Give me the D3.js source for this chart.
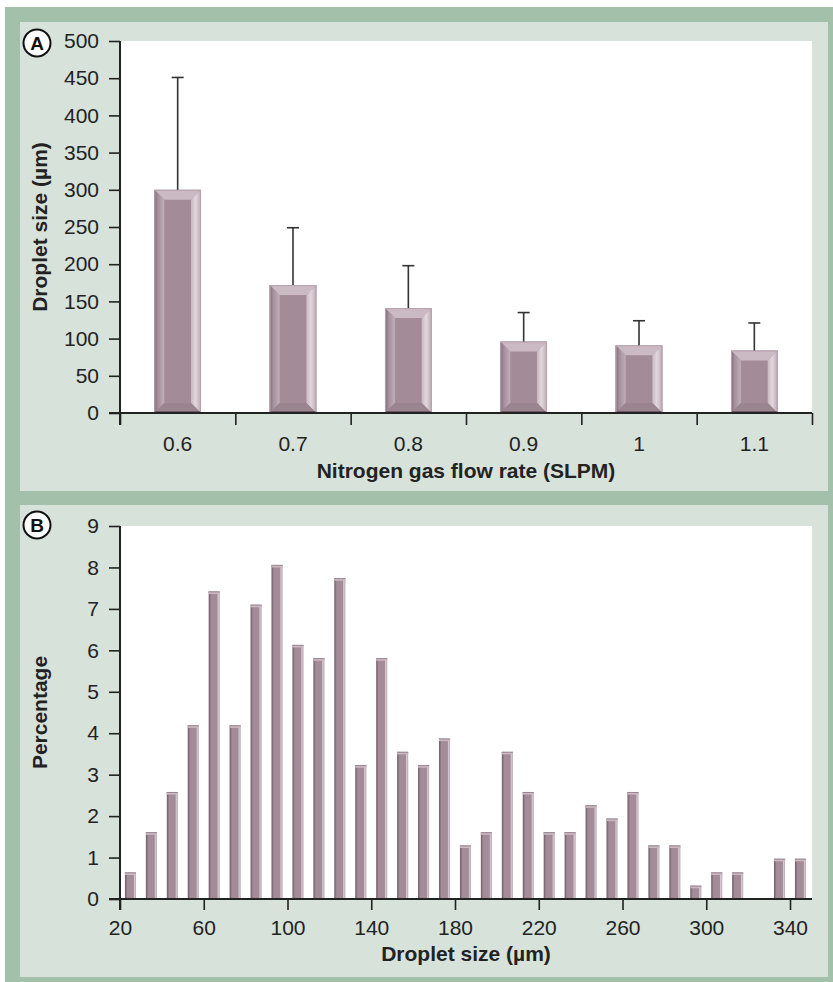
<!DOCTYPE html>
<html><head><meta charset="utf-8">
<script src="https://cdn.jsdelivr.net/npm/d3@7/dist/d3.min.js"></script>
<style>
html,body{margin:0;padding:0;background:#fff;}
svg{display:block;font-family:"Liberation Sans",Arial,Helvetica,sans-serif;}
</style></head>
<body>
<svg id="chart" width="833" height="982"></svg>
<script>
// ---------- Data ----------
const flowRates = ["0.6", "0.7", "0.8", "0.9", "1", "1.1"];
const meanSize = [300, 172, 141, 96, 91, 84];
const sdSize = [151, 77, 57, 39, 33, 37];
const yTicksA = [0, 50, 100, 150, 200, 250, 300, 350, 400, 450, 500];

const binCenters = [25, 35, 45, 55, 65, 75, 85, 95, 105, 115, 125, 135, 145, 155, 165, 175, 185, 195, 205, 215, 225, 235, 245, 255, 265, 275, 285, 295, 305, 315, 325, 335, 345];
const percentages = [0.64, 1.61, 2.58, 4.19, 7.42, 4.19, 7.10, 8.06, 6.13, 5.81, 7.74, 3.23, 5.81, 3.55, 3.23, 3.87, 1.29, 1.61, 3.55, 2.58, 1.61, 1.61, 2.26, 1.94, 2.58, 1.29, 1.29, 0.32, 0.64, 0.64, 0, 0.97, 0.97];
const yTicksB = [0, 1, 2, 3, 4, 5, 6, 7, 8, 9];
const xTicksB = [20, 60, 100, 140, 180, 220, 260, 300, 340];

// ---------- Layout ----------
const svg = d3.select("#chart");
const FS = 21;
const green = "#a3c0ab", light = "#d7e2db", ink = "#222";

const defs = svg.append("defs");
function grad(id, stops) {
  const g = defs.append("linearGradient").attr("id", id).attr("x1", "0%").attr("x2", "100%").attr("y1", "0%").attr("y2", "0%");
  stops.forEach(s => g.append("stop").attr("offset", s[0]).attr("stop-color", s[1]));
}
grad("leftBevel", [["0%", "#7d6874"], ["35%", "#a48e9b"], ["100%", "#c0afb9"]]);
grad("rightBevel", [["0%", "#c9b9c2"], ["45%", "#e2d7dd"], ["100%", "#bcaab4"]]);
grad("thinBar", [["0%", "#6f5b66"], ["14%", "#8e7884"], ["22%", "#a38b98"], ["76%", "#a38b98"], ["84%", "#d6c8d0"], ["100%", "#b8a6b0"]]);

svg.append("rect").attr("x", 5).attr("y", 7).attr("width", 828).attr("height", 975).attr("fill", green);
svg.append("rect").attr("x", 20).attr("y", 22).attr("width", 808).attr("height", 469).attr("fill", light);
svg.append("rect").attr("x", 20).attr("y", 505).attr("width", 808).attr("height", 472).attr("fill", light);

function panelLabel(letter, cx, cy) {
  svg.append("circle").attr("cx", cx).attr("cy", cy).attr("r", 13.5).attr("fill", "#fff").attr("stroke", "#111").attr("stroke-width", 2);
  svg.append("text").attr("x", cx).attr("y", cy).attr("dy", "0.36em").attr("text-anchor", "middle")
    .attr("font-weight", "bold").attr("font-size", 19).attr("fill", "#111").text(letter);
}

function styleAxis(g) {
  g.selectAll(".domain").remove();
  g.selectAll(".tick line").attr("stroke", ink).attr("stroke-width", 1.6);
  g.selectAll(".tick text").attr("font-size", FS).attr("fill", ink).attr("font-family", "Liberation Sans, Arial, sans-serif");
}

// ---------- Panel A ----------
const A = { left: 120, right: 812, top: 41, bottom: 413 };
svg.append("rect").attr("x", A.left + 1).attr("y", A.top).attr("width", A.right - A.left - 1).attr("height", A.bottom - A.top).attr("fill", "#fff");

const xA = d3.scaleBand().domain(flowRates).range([A.left, A.right]).padding(0);
const xAedges = d3.scaleLinear().domain([0, flowRates.length]).range([A.left, A.right]);
const yA = d3.scaleLinear().domain([0, 500]).range([A.bottom, A.top]);

// bars with bevel
const barW = xA.bandwidth() * 0.405;
const bev = 10;
const barsA = svg.append("g");
flowRates.forEach((c, i) => {
  const x0 = xA(c) + xA.bandwidth() / 2 - barW / 2, x1 = x0 + barW;
  const y0 = yA(meanSize[i]), y1 = yA(0);
  const g = barsA.append("g");
  g.append("rect").attr("x", x0).attr("y", y0).attr("width", barW).attr("height", y1 - y0).attr("fill", "#a38b98");
  g.append("polygon").attr("points", [[x0, y0], [x1, y0], [x1 - bev, y0 + bev], [x0 + bev, y0 + bev]].join(" ")).attr("fill", "#cbb9c4");
  g.append("polygon").attr("points", [[x0, y0], [x0 + bev, y0 + bev], [x0 + bev, y1 - bev], [x0, y1]].join(" ")).attr("fill", "url(#leftBevel)");
  g.append("polygon").attr("points", [[x1, y0], [x1 - bev, y0 + bev], [x1 - bev, y1 - bev], [x1, y1]].join(" ")).attr("fill", "url(#rightBevel)");
  g.append("polygon").attr("points", [[x0, y1], [x0 + bev, y1 - bev], [x1 - bev, y1 - bev], [x1, y1]].join(" ")).attr("fill", "#9a8490");
  g.append("line").attr("x1", x0).attr("x2", x1).attr("y1", y1 - 1).attr("y2", y1 - 1).attr("stroke", "#5f4e58").attr("stroke-width", 1.5);
  g.append("rect").attr("x", x0 + 0.5).attr("y", y0 + 0.5).attr("width", barW - 1).attr("height", y1 - y0 - 1).attr("fill", "none").attr("stroke", "#b5a2ad").attr("stroke-width", 1);
  // error bar
  const cx = x0 + barW / 2, ye = yA(meanSize[i] + sdSize[i]);
  g.append("line").attr("x1", cx).attr("x2", cx).attr("y1", y0).attr("y2", ye).attr("stroke", "#333").attr("stroke-width", 1.6);
  g.append("line").attr("x1", cx - 6).attr("x2", cx + 6).attr("y1", ye).attr("y2", ye).attr("stroke", "#333").attr("stroke-width", 1.6);
});

// axes A
const gyA = svg.append("g").attr("transform", `translate(${A.left},0)`)
  .call(d3.axisLeft(yA).tickValues(yTicksA).tickSize(11).tickPadding(10));
styleAxis(gyA);
const gxA = svg.append("g").attr("transform", `translate(0,${A.bottom})`)
  .call(d3.axisBottom(xAedges).tickValues(d3.range(flowRates.length + 1)).tickSize(12).tickFormat(""));
styleAxis(gxA);
svg.append("line").attr("x1", A.left).attr("x2", A.left).attr("y1", A.top).attr("y2", A.bottom + 12).attr("stroke", ink).attr("stroke-width", 2);
svg.append("line").attr("x1", A.left - 11).attr("x2", A.right).attr("y1", A.bottom).attr("y2", A.bottom).attr("stroke", ink).attr("stroke-width", 2);
svg.append("g").selectAll("text").data(flowRates).join("text")
  .attr("x", d => xA(d) + xA.bandwidth() / 2).attr("y", 451).attr("text-anchor", "middle")
  .attr("font-size", FS).attr("fill", ink).text(d => d);
svg.append("text").attr("x", 466).attr("y", 478).attr("text-anchor", "middle").attr("font-weight", "bold")
  .attr("font-size", FS).attr("fill", ink).text("Nitrogen gas flow rate (SLPM)");
svg.append("text").attr("transform", `translate(47,${(A.top + A.bottom) / 2}) rotate(-90)`).attr("text-anchor", "middle")
  .attr("font-weight", "bold").attr("font-size", FS).attr("fill", ink).text("Droplet size (µm)");
panelLabel("A", 37, 43);

// ---------- Panel B ----------
const B = { left: 120, right: 812, top: 526, bottom: 899 };
svg.append("rect").attr("x", B.left + 1).attr("y", B.top).attr("width", B.right - B.left - 1).attr("height", B.bottom - B.top).attr("fill", "#fff");

const xB = d3.scaleLinear().domain([20, 350.5]).range([B.left, B.right]);
const yB = d3.scaleLinear().domain([0, 9]).range([B.bottom, B.top]);
const bw = (xB(30) - xB(20)) * 0.53;
const dataB = binCenters.map((c, i) => ({ c, v: percentages[i] })).filter(d => d.v > 0);

const gb = svg.append("g").selectAll("g").data(dataB).join("g");
gb.append("rect").attr("x", d => xB(d.c) - bw / 2).attr("y", d => yB(d.v)).attr("width", bw)
  .attr("height", d => yB(0) - yB(d.v)).attr("fill", "url(#thinBar)");
gb.append("rect").attr("x", d => xB(d.c) - bw / 2).attr("y", d => yB(d.v)).attr("width", bw).attr("height", 2.5).attr("fill", "#cbbac4");
gb.append("line").attr("x1", d => xB(d.c) - bw / 2).attr("x2", d => xB(d.c) + bw / 2)
  .attr("y1", d => yB(d.v) + 0.4).attr("y2", d => yB(d.v) + 0.4).attr("stroke", "#8d7783").attr("stroke-width", 0.8);

const gyB = svg.append("g").attr("transform", `translate(${B.left},0)`)
  .call(d3.axisLeft(yB).tickValues(yTicksB).tickSize(11).tickPadding(10).tickFormat(d3.format("d")));
styleAxis(gyB);
const gxB = svg.append("g").attr("transform", `translate(0,${B.bottom})`)
  .call(d3.axisBottom(xB).tickValues(xTicksB).tickSize(11).tickPadding(10).tickFormat(d3.format("d")));
styleAxis(gxB);
svg.append("line").attr("x1", B.left).attr("x2", B.left).attr("y1", B.top).attr("y2", B.bottom + 11).attr("stroke", ink).attr("stroke-width", 2);
svg.append("line").attr("x1", B.left - 11).attr("x2", B.right).attr("y1", B.bottom).attr("y2", B.bottom).attr("stroke", ink).attr("stroke-width", 2);
svg.append("text").attr("x", 466).attr("y", 961).attr("text-anchor", "middle").attr("font-weight", "bold")
  .attr("font-size", FS).attr("fill", ink).text("Droplet size (µm)");
svg.append("text").attr("transform", `translate(47,${(B.top + B.bottom) / 2}) rotate(-90)`).attr("text-anchor", "middle")
  .attr("font-weight", "bold").attr("font-size", FS).attr("fill", ink).text("Percentage");
panelLabel("B", 37, 525);
</script>
</body></html>
